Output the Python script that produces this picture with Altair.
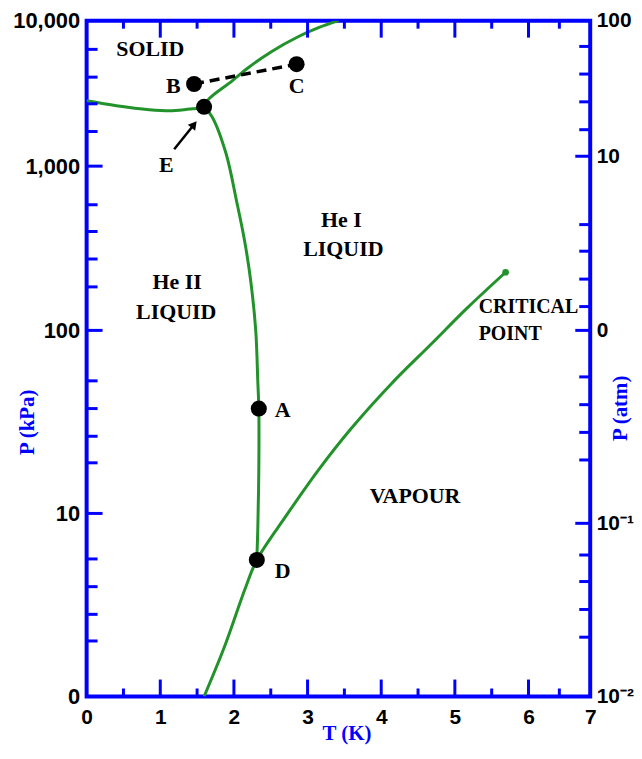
import altair as alt
import pandas as pd

BLUE = "#0000FF"
GREEN = "#22922a"

# ---- curves (T in K, P in kPa) ----
melt_T = [0.0, 0.405, 0.851, 1.162, 1.432, 1.595, 1.662, 1.973, 2.203, 2.514, 2.878, 3.149, 3.419]
melt_P = [2812, 2600, 2444, 2405, 2483, 2557, 2904, 3846, 4787, 6150, 7785, 8955, 10000]

lam_T = [1.595, 1.703, 1.892, 2.041, 2.149, 2.230, 2.297, 2.324, 2.338, 2.338, 2.324, 2.311]
lam_P = [2557, 2188, 1226, 598, 343, 197, 98.8, 53.0, 37.4, 17.3, 8.2, 5.57]

vap_T = [1.595, 1.865, 2.162, 2.311, 2.703, 3.149, 3.595, 4.135, 4.676, 5.176, 5.689]
vap_P = [1.0, 1.84, 3.98, 5.57, 9.63, 17.3, 29.2, 51.0, 84.0, 138, 226]

crit_T = [5.689]
crit_P = [226]

# ---- marked points ----
pt_name = ["A", "B", "C", "D", "E"]
pt_T = [2.338, 1.459, 2.851, 2.311, 1.595]
pt_P = [37.4, 3674, 5024, 5.57, 2557]

# dashed line B -> C
bc_T = [1.459, 2.851]
bc_P = [3674, 5024]

# arrow from label E to point E
arr_T = [1.189]
arr_P = [1306]
arr_T2 = [1.459]
arr_P2 = [1932]

# ---- text labels ----
lab_text = ["SOLID", "B", "C", "E", "He I", "LIQUID", "He II", "LIQUID", "A", "D", "VAPOUR"]
lab_T = [0.865, 1.176, 2.851, 1.081, 3.459, 3.486, 1.230, 1.216, 2.662, 2.662, 4.459]
lab_P = [6350, 3556, 3556, 1016, 473, 312, 197, 130, 36.5, 4.86, 12.5]

crit_text = ["CRITICAL", "POINT"]
crit_lab_T = [5.324, 5.324]
crit_lab_P = [139.6, 95.1]

# ---- axis ticks ----
x_labels = [0, 1, 2, 3, 4, 5, 6, 7]
x_major = [1, 2, 3, 4, 5, 6]
x_minor = [0.5, 1.5, 2.5, 3.5, 4.5, 5.5, 6.5]
kpa_labels = [1, 10, 100, 1000, 10000]
kpa_major = [10, 100, 1000]
kpa_minor = [6353, 4092, 2683, 1730, 582, 400, 272, 184, 53.0, 37.4, 26.4, 18.9, 5.64, 3.98, 2.81, 2.01]
atm_labels = [0.01, 0.1, 1, 10, 100]
atm_major = [0.1, 1, 10]
atm_minor = [64.6, 40.4, 25.2, 15.7, 4.05, 2.85, 1.97, 1.37, 0.574, 0.412, 0.296, 0.213,
             0.0656, 0.0461, 0.0318, 0.0220]

W, H = 506, 679
REF_H = 683.0

xscale = alt.Scale(domain=[0, 6, 7], range=[0, 444, W], nice=False, zero=False)
kscale = alt.Scale(type="log", domain=[1, 10, 100, 1000, 10000],
                   range=[v * H / REF_H for v in [683, 498, 313, 147, 0]], nice=False)
ascale = alt.Scale(type="log", domain=[0.01, 0.1, 1, 10, 100],
                   range=[v * H / REF_H for v in [683, 508, 313, 137, 0]], nice=False)

lab_common = dict(labelFont="Liberation Sans", labelFontWeight="bold",
                  labelColor="black", labelOverlap=False, labelFlush=False,
                  ticks=False, domain=False, grid=False,
                  titleFont="Liberation Serif", titleFontWeight="bold", titleFontSize=21,
                  titleColor=BLUE, titleAlign="center", titleBaseline="middle")

x_axis = alt.Axis(values=x_labels, format="d", labelPadding=10, labelFontSize=21, title="T (K)",
                  titleX=261, titleY=37, **lab_common)
k_axis = alt.Axis(values=kpa_labels, labelExpr="datum.value == 1 ? '0' : format(datum.value, ',')",
                  labelPadding=7, labelFontSize=22, title="P (kPa)", titleAngle=270,
                  titleX=-59, titleY=403, **lab_common)
a_axis = alt.Axis(orient="right", values=atm_labels,
                  labelExpr="datum.value >= 10 ? format(datum.value, 'd') : (datum.value == 1 ? '0' : (datum.value > 0.05 ? '10⁻¹' : '10⁻²'))",
                  labelPadding=6, labelFontSize=21, title="P (atm)", titleAngle=270,
                  titleX=30, titleY=389, **lab_common)

X = alt.X("T:Q", scale=xscale, axis=x_axis)
Y = alt.Y("P:Q", scale=kscale, axis=k_axis)

curves = pd.concat([
    pd.DataFrame({"curve": "melt", "i": range(len(melt_T)), "T": melt_T, "P": melt_P}),
    pd.DataFrame({"curve": "lambda", "i": range(len(lam_T)), "T": lam_T, "P": lam_P}),
    pd.DataFrame({"curve": "vapour", "i": range(len(vap_T)), "T": vap_T, "P": vap_P}),
])

lines = alt.Chart(curves).mark_line(color=GREEN, strokeWidth=3, clip=True,
                                    interpolate="catmull-rom").encode(
    x=X, y=Y, detail="curve:N", order="i:Q")

crit = alt.Chart(pd.DataFrame({"T": crit_T, "P": crit_P})).mark_circle(
    color=GREEN, opacity=1, size=45).encode(x=X, y=Y)

bc = alt.Chart(pd.DataFrame({"T": bc_T, "P": bc_P})).mark_line(
    color="black", strokeWidth=3.5, strokeDash=[10, 6]).encode(x=X, y=Y)

pts = alt.Chart(pd.DataFrame({"name": pt_name, "T": pt_T, "P": pt_P})).mark_circle(
    color="black", opacity=1, size=260).encode(x=X, y=Y)

arr_df = pd.DataFrame({"T": arr_T, "P": arr_P, "T2": arr_T2, "P2": arr_P2})
arrow = alt.Chart(arr_df).mark_rule(color="black", strokeWidth=2.5).encode(
    x=X, y=Y, x2="T2:Q", y2="P2:Q")
head = alt.Chart(pd.DataFrame({"T": arr_T2, "P": arr_P2})).mark_point(
    shape="triangle-up", filled=True, color="black", opacity=1, size=90, angle=39).encode(x=X, y=Y)

labels = alt.Chart(pd.DataFrame({"t": lab_text, "T": lab_T, "P": lab_P})).mark_text(
    font="Liberation Serif", fontWeight="bold", fontSize=22, color="black",
    align="center", baseline="middle").encode(x=X, y=Y, text="t:N")

crit_labels = alt.Chart(pd.DataFrame({"t": crit_text, "T": crit_lab_T, "P": crit_lab_P})).mark_text(
    font="Liberation Serif", fontWeight="bold", fontSize=20, color="black",
    align="left", baseline="middle").encode(x=X, y=Y, text="t:N")

# frame ticks (pointing inward)
kmaj = alt.Chart(pd.DataFrame({"P": kpa_major})).mark_rule(color=BLUE, strokeWidth=3).encode(
    y=Y, x=alt.value(0), x2=alt.value(16))
kmin = alt.Chart(pd.DataFrame({"P": kpa_minor})).mark_rule(color=BLUE, strokeWidth=3).encode(
    y=Y, x=alt.value(0), x2=alt.value(11))
bmaj = alt.Chart(pd.DataFrame({"T": x_major})).mark_rule(color=BLUE, strokeWidth=3).encode(
    x=X, y=alt.value(H), y2=alt.value(H - 17))
bmin = alt.Chart(pd.DataFrame({"T": x_minor})).mark_rule(color=BLUE, strokeWidth=3).encode(
    x=X, y=alt.value(H), y2=alt.value(H - 8))
tmaj = alt.Chart(pd.DataFrame({"T": x_major})).mark_rule(color=BLUE, strokeWidth=3).encode(
    x=X, y=alt.value(0), y2=alt.value(17))
tmin = alt.Chart(pd.DataFrame({"T": x_minor})).mark_rule(color=BLUE, strokeWidth=3).encode(
    x=X, y=alt.value(0), y2=alt.value(8))

left = alt.layer(lines, crit, bc, arrow, head, pts, labels, crit_labels,
                 kmaj, kmin, bmaj, bmin, tmaj, tmin)

YA = alt.Y("atm:Q", scale=ascale, axis=a_axis)
amaj = alt.Chart(pd.DataFrame({"atm": atm_major})).mark_rule(color=BLUE, strokeWidth=3).encode(
    y=YA, x=alt.value(W), x2=alt.value(W - 15))
amin = alt.Chart(pd.DataFrame({"atm": atm_minor})).mark_rule(color=BLUE, strokeWidth=3).encode(
    y=YA, x=alt.value(W), x2=alt.value(W - 11))
right = alt.layer(amaj, amin)

chart = alt.layer(left, right).resolve_scale(y="independent").properties(
    width=W, height=H, padding={"left": 4, "top": 0, "right": 0, "bottom": 0}
).configure_view(stroke=BLUE, strokeWidth=4)

chart.save("out.html", embed_options={"renderer": "svg", "actions": False})
